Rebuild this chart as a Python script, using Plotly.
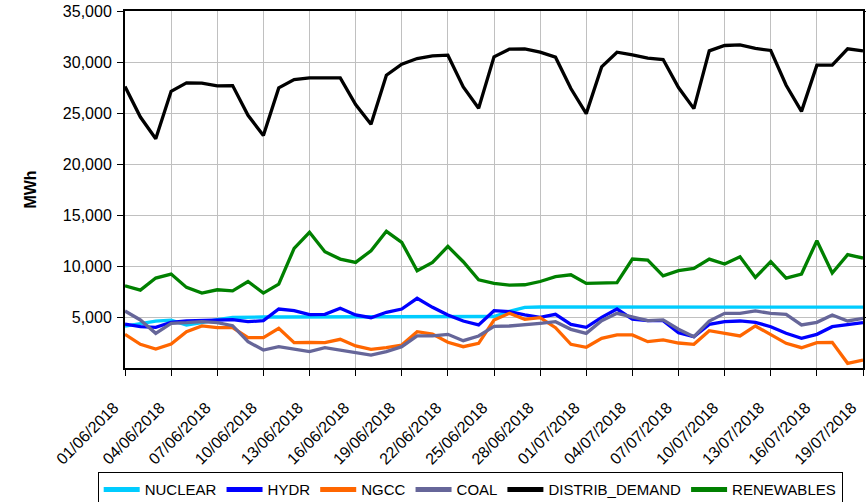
import plotly.graph_objects as go
import pandas as pd

dates = pd.date_range("2018-06-01", "2018-07-19", freq="D")

nuclear = [4100, 4350, 4600, 4700, 4200, 4450, 4750, 4950, 5000, 5000, 5000, 5000, 5000, 5000,
           5000, 5000, 5000, 5000, 5000, 5000, 5000, 5000, 5000, 5000, 5050, 5550, 5950, 5980,
           5980, 5960, 5960, 5960, 5960, 5960, 5960, 5970, 5970, 5950, 5950, 5950, 5900, 5950,
           5950, 5960, 5960, 5960, 5960, 5960, 5960]
hydr = [4310, 4050, 3990, 4480, 4610, 4640, 4740, 4740, 4540, 4640, 5780, 5620, 5230, 5260,
        5850, 5200, 4930, 5460, 5780, 6830, 5950, 5200, 4610, 4220, 5620, 5520, 5200, 4970,
        5260, 4280, 3990, 4970, 5780, 4800, 4640, 4640, 3450, 3070, 4280, 4540, 4610, 4480,
        4050, 3400, 2910, 3300, 4050, 4280, 4440]
ngcc = [3300, 2320, 1860, 2350, 3560, 4120, 3950, 3950, 2970, 2970, 3890, 2480, 2500, 2480,
        2810, 2160, 1830, 1990, 2250, 3560, 3330, 2520, 2090, 2420, 4700, 5360, 4770, 4930,
        3950, 2320, 2030, 2910, 3240, 3240, 2580, 2750, 2450, 2320, 3660, 3400, 3140, 4120,
        3240, 2420, 1990, 2480, 2520, 460, 780]
coal = [5590, 4710, 3400, 4380, 4440, 4540, 4440, 4150, 2580, 1760, 2090, 1830, 1600, 1990,
        1760, 1500, 1270, 1600, 2090, 3140, 3140, 3300, 2680, 3140, 4080, 4120, 4220, 4380,
        4540, 3790, 3400, 4640, 5360, 5030, 4640, 4710, 3800, 3070, 4610, 5360, 5360, 5590,
        5360, 5260, 4220, 4480, 5200, 4610, 4870]
distrib_demand = [27600, 24600, 22480, 27130, 27950, 27920, 27650, 27690, 24770, 22800, 27460,
                  28280, 28440, 28450, 28450, 25820, 23890, 28700, 29790, 30340, 30600, 30670,
                  27550, 25460, 30500, 31260, 31290, 30960, 30470, 27400, 24940, 29520, 30960,
                  30700, 30370, 30240, 27500, 25430, 31090, 31620, 31680, 31330, 31130, 27720,
                  25160, 29690, 29700, 31290, 31090]
renewables = [8060, 7640, 8820, 9210, 7900, 7340, 7670, 7570, 8480, 7340, 8220, 11730, 13300,
              11400, 10680, 10350, 11500, 13400, 12320, 9540, 10350, 11920, 10420, 8640, 8290,
              8130, 8160, 8480, 8950, 9140, 8290, 8360, 8360, 10680, 10580, 9040, 9540, 9760,
              10680, 10190, 10910, 8880, 10420, 8820, 9210, 12480, 9310, 11110, 10780]

y_tickvals = [5000, 10000, 15000, 20000, 25000, 30000, 35000]

series = [
    ("NUCLEAR", nuclear, "#00CCFF"),
    ("HYDR", hydr, "#0000FF"),
    ("NGCC", ngcc, "#FF6600"),
    ("COAL", coal, "#666699"),
    ("DISTRIB_DEMAND", distrib_demand, "#000000"),
    ("RENEWABLES", renewables, "#008000"),
]

fig = go.Figure()
for name, vals, col in series:
    fig.add_trace(go.Scatter(x=dates, y=vals, name=name, mode="lines",
                             line=dict(color=col, width=3.3)))

FONT = "Liberation Sans, Arial, sans-serif"
fig.update_layout(
    width=866, height=502,
    margin=dict(l=125, r=3, t=11, b=134, autoexpand=False),
    paper_bgcolor="white", plot_bgcolor="white",
    font=dict(family=FONT, color="black"),
    legend=dict(orientation="h", x=-0.037, xanchor="left", y=-0.292, yanchor="top",
                bordercolor="black", borderwidth=1, font=dict(size=15, family=FONT),
                itemsizing="constant", tracegroupgap=0, itemwidth=36),
    xaxis=dict(
        range=[dates[0], dates[-1]], automargin=False,
        tick0=dates[0], dtick=3 * 24 * 3600 * 1000,
        tickformat="%d/%m/%Y", tickangle=-45,
        tickfont=dict(size=16, family=FONT),
        ticklabelshift=-11, ticklabelstandoff=16,
        showgrid=True, gridcolor="#C0C0C0", gridwidth=1,
        showline=True, linecolor="black", linewidth=2, mirror=True,
        ticks="outside", ticklen=6, tickcolor="black",
        zeroline=False,
    ),
    yaxis=dict(
        range=[0, 35000], tickvals=y_tickvals, tickformat=",", automargin=False,
        tickfont=dict(size=16, family=FONT),
        ticklabelstandoff=2,
        showgrid=True, gridcolor="#C0C0C0", gridwidth=1,
        showline=True, linecolor="black", linewidth=2, mirror="ticks",
        ticks="outside", ticklen=6, tickcolor="black",
        zeroline=False,
        title=dict(text="<b>MWh</b>", font=dict(size=16, family=FONT), standoff=22),
    ),
)

fig.write_html("out.html", config={"displayModeBar": False},
               post_script="document.body.style.margin='0';")
